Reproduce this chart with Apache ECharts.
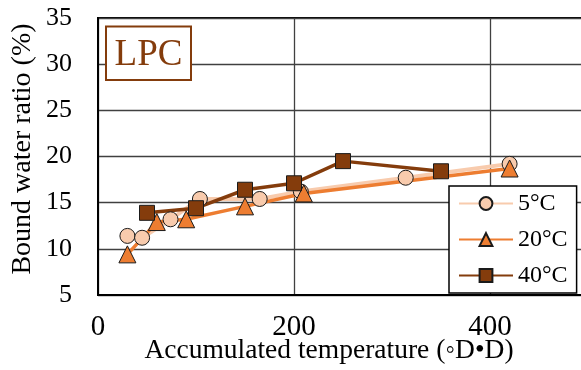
<!DOCTYPE html>
<html>
<head>
<meta charset="utf-8">
<script src="https://cdn.jsdelivr.net/npm/echarts@6/dist/echarts.min.js"></script>
<style>
  html, body { margin: 0; padding: 0; background: #fff; }
  #chart { width: 581px; height: 370px; }
</style>
</head>
<body>
<div id="chart"></div>
<script>
// Bound water ratio vs accumulated temperature, LPC, three curing temperatures
const seriesNames = ['5\u00B0C', '20\u00B0C', '40\u00B0C'];
const temp5 = [[30, 11.4], [45, 11.2], [74, 13.2], [104, 15.4], [165, 15.4], [207, 16.2], [314, 17.7], [420, 19.2]];
const temp20 = [[30, 9.4], [60, 12.9], [90, 13.2], [150, 14.6], [210, 16.0], [420, 18.7]];
const temp40 = [[50, 13.9], [100, 14.4], [150, 16.4], [200, 17.1], [250, 19.5], [350, 18.4]];
const xTicks = [0, 200, 400, 600];
const yTicks = [5, 10, 15, 20, 25, 30, 35];

const FONT = '"Liberation Serif", "Times New Roman", serif';
const chart = echarts.init(document.getElementById('chart'), null, { renderer: 'canvas' });

function lineSeries(name, data, color, lineColor, symbol, size, width) {
  return {
    name: name,
    type: 'line',
    data: data,
    symbol: symbol,
    symbolSize: size,
    showAllSymbol: true,
    lineStyle: { color: lineColor, width: width },
    itemStyle: { color: color, borderColor: '#1a1a1a', borderWidth: 1 },
    emphasis: { disabled: true },
    animation: false
  };
}

chart.setOption({
  animation: false,
  backgroundColor: '#ffffff',
  grid: {
    left: 98, top: 18, width: 588, height: 277,
    outerBoundsMode: 'none', containLabel: false,
    show: true, borderColor: '#000', borderWidth: 2, backgroundColor: 'transparent'
  },
  xAxis: {
    type: 'value',
    min: xTicks[0], max: xTicks[xTicks.length - 1], interval: 200,
    axisLine: { show: true, onZero: false, lineStyle: { color: '#000', width: 2 } },
    axisTick: { show: false },
    splitLine: { show: true, lineStyle: { color: '#404040', width: 1.3 } },
    axisLabel: { color: '#000', fontFamily: FONT, fontSize: 29, margin: 18 }
  },
  yAxis: {
    type: 'value',
    min: yTicks[0], max: yTicks[yTicks.length - 1], interval: 5,
    axisLine: { show: true, lineStyle: { color: '#000', width: 2 } },
    axisTick: { show: false },
    splitLine: { show: true, lineStyle: { color: '#404040', width: 1.3 } },
    axisLabel: { color: '#000', fontFamily: FONT, fontSize: 26, margin: 26 }
  },
  legend: {
    left: 449, top: 186,
    orient: 'vertical',
    data: seriesNames,
    itemWidth: 54, itemHeight: 16, itemGap: 11,
    padding: [5, 9, 5, 9],
    backgroundColor: '#fff',
    borderColor: '#000', borderWidth: 1.5, borderRadius: 0,
    textStyle: { color: '#000', fontFamily: FONT, fontSize: 24, lineHeight: 25 },
    selectedMode: false
  },
  graphic: [
    {
      type: 'text', x: 23, y: 149, rotation: Math.PI / 2,
      style: { text: 'Bound water ratio (%)', fill: '#000', font: '28px ' + FONT,
               align: 'center', verticalAlign: 'middle' }
    },
    {
      type: 'text', x: 329, y: 351,
      style: { text: 'Accumulated temperature (\u25E6D\u2022D)', fill: '#000', font: '27.5px ' + FONT,
               align: 'center', verticalAlign: 'middle' }
    },
    {
      type: 'rect', shape: { x: 106, y: 26.5, width: 85, height: 53.5 },
      style: { fill: '#fff', stroke: '#843C0C', lineWidth: 2 }, z: 10
    },
    {
      type: 'text', x: 148.5, y: 55,
      style: { text: 'LPC', fill: '#843C0C', font: '37px ' + FONT, align: 'center', verticalAlign: 'middle' },
      z: 11
    }
  ],
  series: [
    lineSeries(seriesNames[0], temp5, '#F8CBAD', '#F8CBAD', 'circle', 15, 4),
    lineSeries(seriesNames[1], temp20, '#ED7D31', '#ED7D31', 'triangle', 17, 3.5),
    lineSeries(seriesNames[2], temp40, '#843C0C', '#843C0C', 'rect', 15, 3.5)
  ]
});
</script>
</body>
</html>
